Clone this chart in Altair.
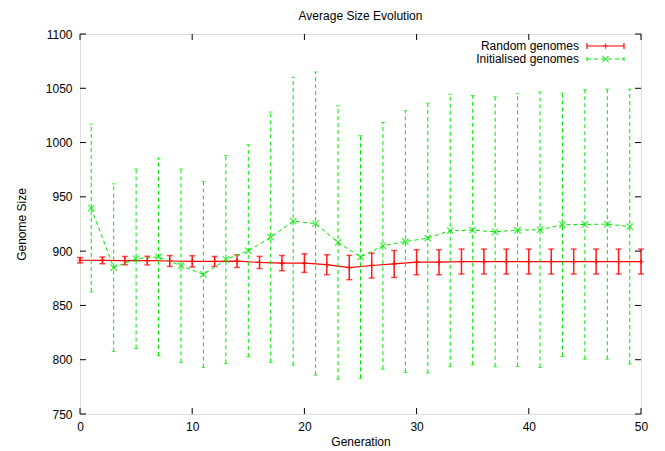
import altair as alt
import pandas as pd

# ---- data ----
gen_random = list(range(0, 51, 2))
mean_random = [891.6, 891.5, 891.3, 891.3, 890.9, 890.6, 890.5, 890.8, 889.6, 889.0,
               889.0, 887.5, 884.9, 886.8, 888.2, 889.8, 889.8, 890.4, 890.4, 890.4,
               890.4, 890.4, 890.4, 890.4, 890.4, 890.4]
err_random = [2.5, 3.1, 3.8, 4.0, 5.0, 5.2, 4.6, 5.8, 5.6, 7.0,
              8.6, 9.2, 11.2, 11.5, 12.4, 11.5, 11.5, 11.5, 11.5, 11.5,
              11.5, 11.5, 11.5, 11.5, 11.5, 11.5]

gen_init = list(range(1, 50, 2))
mean_init = [939.7, 884.8, 893.0, 894.7, 886.6, 878.6, 892.3, 900.3, 912.8, 927.6,
             925.4, 908.0, 894.6, 904.9, 908.8, 912.0, 919.0, 919.3, 917.8, 919.4,
             919.7, 924.3, 924.6, 924.9, 922.6]
err_init = [77.3, 77.2, 82.7, 91.1, 89.1, 85.7, 95.7, 97.7, 115.3, 132.6,
            139.6, 125.9, 111.8, 113.6, 120.5, 124.3, 125.5, 124.0, 124.3, 125.6,
            126.8, 121.3, 124.1, 124.4, 126.6]

x_ticks = [0, 10, 20, 30, 40, 50]
y_ticks = [750, 800, 850, 900, 950, 1000, 1050, 1100]

series_names = ["Random genomes", "Initialised genomes"]
RED = "#ff0000"
GREEN = "#00e600"
FONT = "Liberation Sans"

W, H = 561, 380

df_r = pd.DataFrame({"gen": gen_random, "mean": mean_random, "err": err_random})
df_r["low"] = df_r["mean"] - df_r["err"]
df_r["high"] = df_r["mean"] + df_r["err"]
df_g = pd.DataFrame({"gen": gen_init, "mean": mean_init, "err": err_init})
df_g["low"] = df_g["mean"] - df_g["err"]
df_g["high"] = df_g["mean"] + df_g["err"]

xs = alt.Scale(domain=[0, 50], nice=False, zero=False)
ys = alt.Scale(domain=[750, 1100], nice=False, zero=False)
x_axis = alt.Axis(values=x_ticks, title="Generation", ticks=False, tickSize=0, domain=False,
                  grid=False, labelPadding=7, titlePadding=4, labelFontSize=12, titleFontSize=12,
                  labelFont=FONT, titleFont=FONT, titleFontWeight="normal", labelColor="#000",
                  titleColor="#000", labelFlush=False, format="d")
y_axis = alt.Axis(values=y_ticks, title="Genome Size", ticks=False, tickSize=0, domain=False,
                  grid=False, labelPadding=8, titlePadding=17, labelFontSize=12, titleFontSize=12,
                  labelFont=FONT, titleFont=FONT, titleFontWeight="normal", labelColor="#000",
                  titleColor="#000", labelFlush=False, format="d")


def X(field="gen"):
    return alt.X(f"{field}:Q", scale=xs, axis=x_axis)


def Y(field):
    return alt.Y(f"{field}:Q", scale=ys, axis=y_axis)


# ---- random genomes (red) ----
r_base = alt.Chart(df_r)
r_line = r_base.mark_line(color=RED, strokeWidth=1.2).encode(x=X(), y=Y("mean"))
r_bar = r_base.mark_rule(color=RED, strokeWidth=1.5, opacity=0.9).encode(
    x=X(), y=Y("low"), y2="high")
r_cap_lo = r_base.mark_tick(color=RED, orient="horizontal", size=6, thickness=1.5).encode(
    x=X(), y=Y("low"))
r_cap_hi = r_base.mark_tick(color=RED, orient="horizontal", size=6, thickness=1.5).encode(
    x=X(), y=Y("high"))
r_pt = r_base.mark_point(shape="M-1,0L1,0M0,-1L0,1", color=RED, filled=False,
                         size=30, strokeWidth=1.2).encode(x=X(), y=Y("mean"))

# ---- initialised genomes (green) ----
g_base = alt.Chart(df_g)
g_line = g_base.mark_line(color=GREEN, strokeWidth=1, strokeDash=[4, 3]).encode(
    x=X(), y=Y("mean"))
g_bar = g_base.mark_rule(color=GREEN, strokeWidth=1, strokeDash=[4, 3]).encode(
    x=X(), y=Y("low"), y2="high")
g_cap_lo = g_base.mark_tick(color=GREEN, orient="horizontal", size=4, thickness=1).encode(
    x=X(), y=Y("low"))
g_cap_hi = g_base.mark_tick(color=GREEN, orient="horizontal", size=4, thickness=1).encode(
    x=X(), y=Y("high"))
g_pt = g_base.mark_point(shape="M-1,-1L1,1M-1,1L1,-1", color=GREEN, filled=False,
                         size=40, strokeWidth=1.3).encode(x=X(), y=Y("mean"))

# ---- inner (mirrored) ticks ----
df_yt = pd.DataFrame({"v": y_ticks})
df_xt = pd.DataFrame({"v": x_ticks})
tk = dict(color="black", strokeWidth=1)
t_left = alt.Chart(df_yt).mark_rule(**tk).encode(y=Y("v"), x=alt.value(0), x2=alt.value(6))
t_right = alt.Chart(df_yt).mark_rule(**tk).encode(y=Y("v"), x=alt.value(W - 6), x2=alt.value(W))
t_bot = alt.Chart(df_xt).mark_rule(**tk).encode(x=X("v"), y=alt.value(H), y2=alt.value(H - 6))
t_top = alt.Chart(df_xt).mark_rule(**tk).encode(x=X("v"), y=alt.value(0), y2=alt.value(6))

# ---- key (top right, gnuplot style) ----
one = alt.Data(values=[{}])
LX0, LX1, LXC = 507, 544, 525.5
LY1, LY2 = 12, 25
key_txt1 = alt.Chart(one).mark_text(text=series_names[0], align="right", baseline="middle",
                                    font=FONT, fontSize=12, color="black").encode(
    x=alt.value(LX0 - 8), y=alt.value(LY1))
key_txt2 = alt.Chart(one).mark_text(text=series_names[1], align="right", baseline="middle",
                                    font=FONT, fontSize=12, color="black").encode(
    x=alt.value(LX0 - 8), y=alt.value(LY2))
key_l1 = alt.Chart(one).mark_rule(color=RED, strokeWidth=1.2).encode(
    x=alt.value(LX0), x2=alt.value(LX1), y=alt.value(LY1))
key_c1a = alt.Chart(one).mark_rule(color=RED, strokeWidth=1.2).encode(
    x=alt.value(LX0), y=alt.value(LY1 - 3), y2=alt.value(LY1 + 3))
key_c1b = alt.Chart(one).mark_rule(color=RED, strokeWidth=1.2).encode(
    x=alt.value(LX1), y=alt.value(LY1 - 3), y2=alt.value(LY1 + 3))
key_p1 = alt.Chart(one).mark_point(shape="M-1,0L1,0M0,-1L0,1", color=RED, filled=False,
                                   size=30, strokeWidth=1.2).encode(
    x=alt.value(LXC), y=alt.value(LY1))
key_l2 = alt.Chart(one).mark_rule(color=GREEN, strokeWidth=1, strokeDash=[4, 3]).encode(
    x=alt.value(LX0), x2=alt.value(LX1), y=alt.value(LY2))
key_c2a = alt.Chart(one).mark_rule(color=GREEN, strokeWidth=1).encode(
    x=alt.value(LX0), y=alt.value(LY2 - 2), y2=alt.value(LY2 + 2))
key_c2b = alt.Chart(one).mark_rule(color=GREEN, strokeWidth=1).encode(
    x=alt.value(LX1), y=alt.value(LY2 - 2), y2=alt.value(LY2 + 2))
key_p2 = alt.Chart(one).mark_point(shape="M-1,-1L1,1M-1,1L1,-1", color=GREEN, filled=False,
                                   size=40, strokeWidth=1.3).encode(
    x=alt.value(LXC), y=alt.value(LY2))

chart = alt.layer(
    r_line, r_bar, r_cap_lo, r_cap_hi, r_pt,
    g_line, g_bar, g_cap_lo, g_cap_hi, g_pt,
    t_left, t_right, t_bot, t_top,
    key_txt1, key_txt2, key_l1, key_c1a, key_c1b, key_p1,
    key_l2, key_c2a, key_c2b, key_p2,
).properties(
    width=W, height=H,
    title=alt.TitleParams("Average Size Evolution", font=FONT, fontSize=12,
                          fontWeight="normal", anchor="middle", offset=5, color="black"),
    autosize=alt.AutoSizeParams(type="none"),
    padding={"left": 72, "top": 26, "right": 16, "bottom": 42},
).configure_view(
    stroke="black", strokeWidth=1.2
).configure(background="white")

chart.save("out.html", embed_options={"renderer": "svg", "actions": False})
